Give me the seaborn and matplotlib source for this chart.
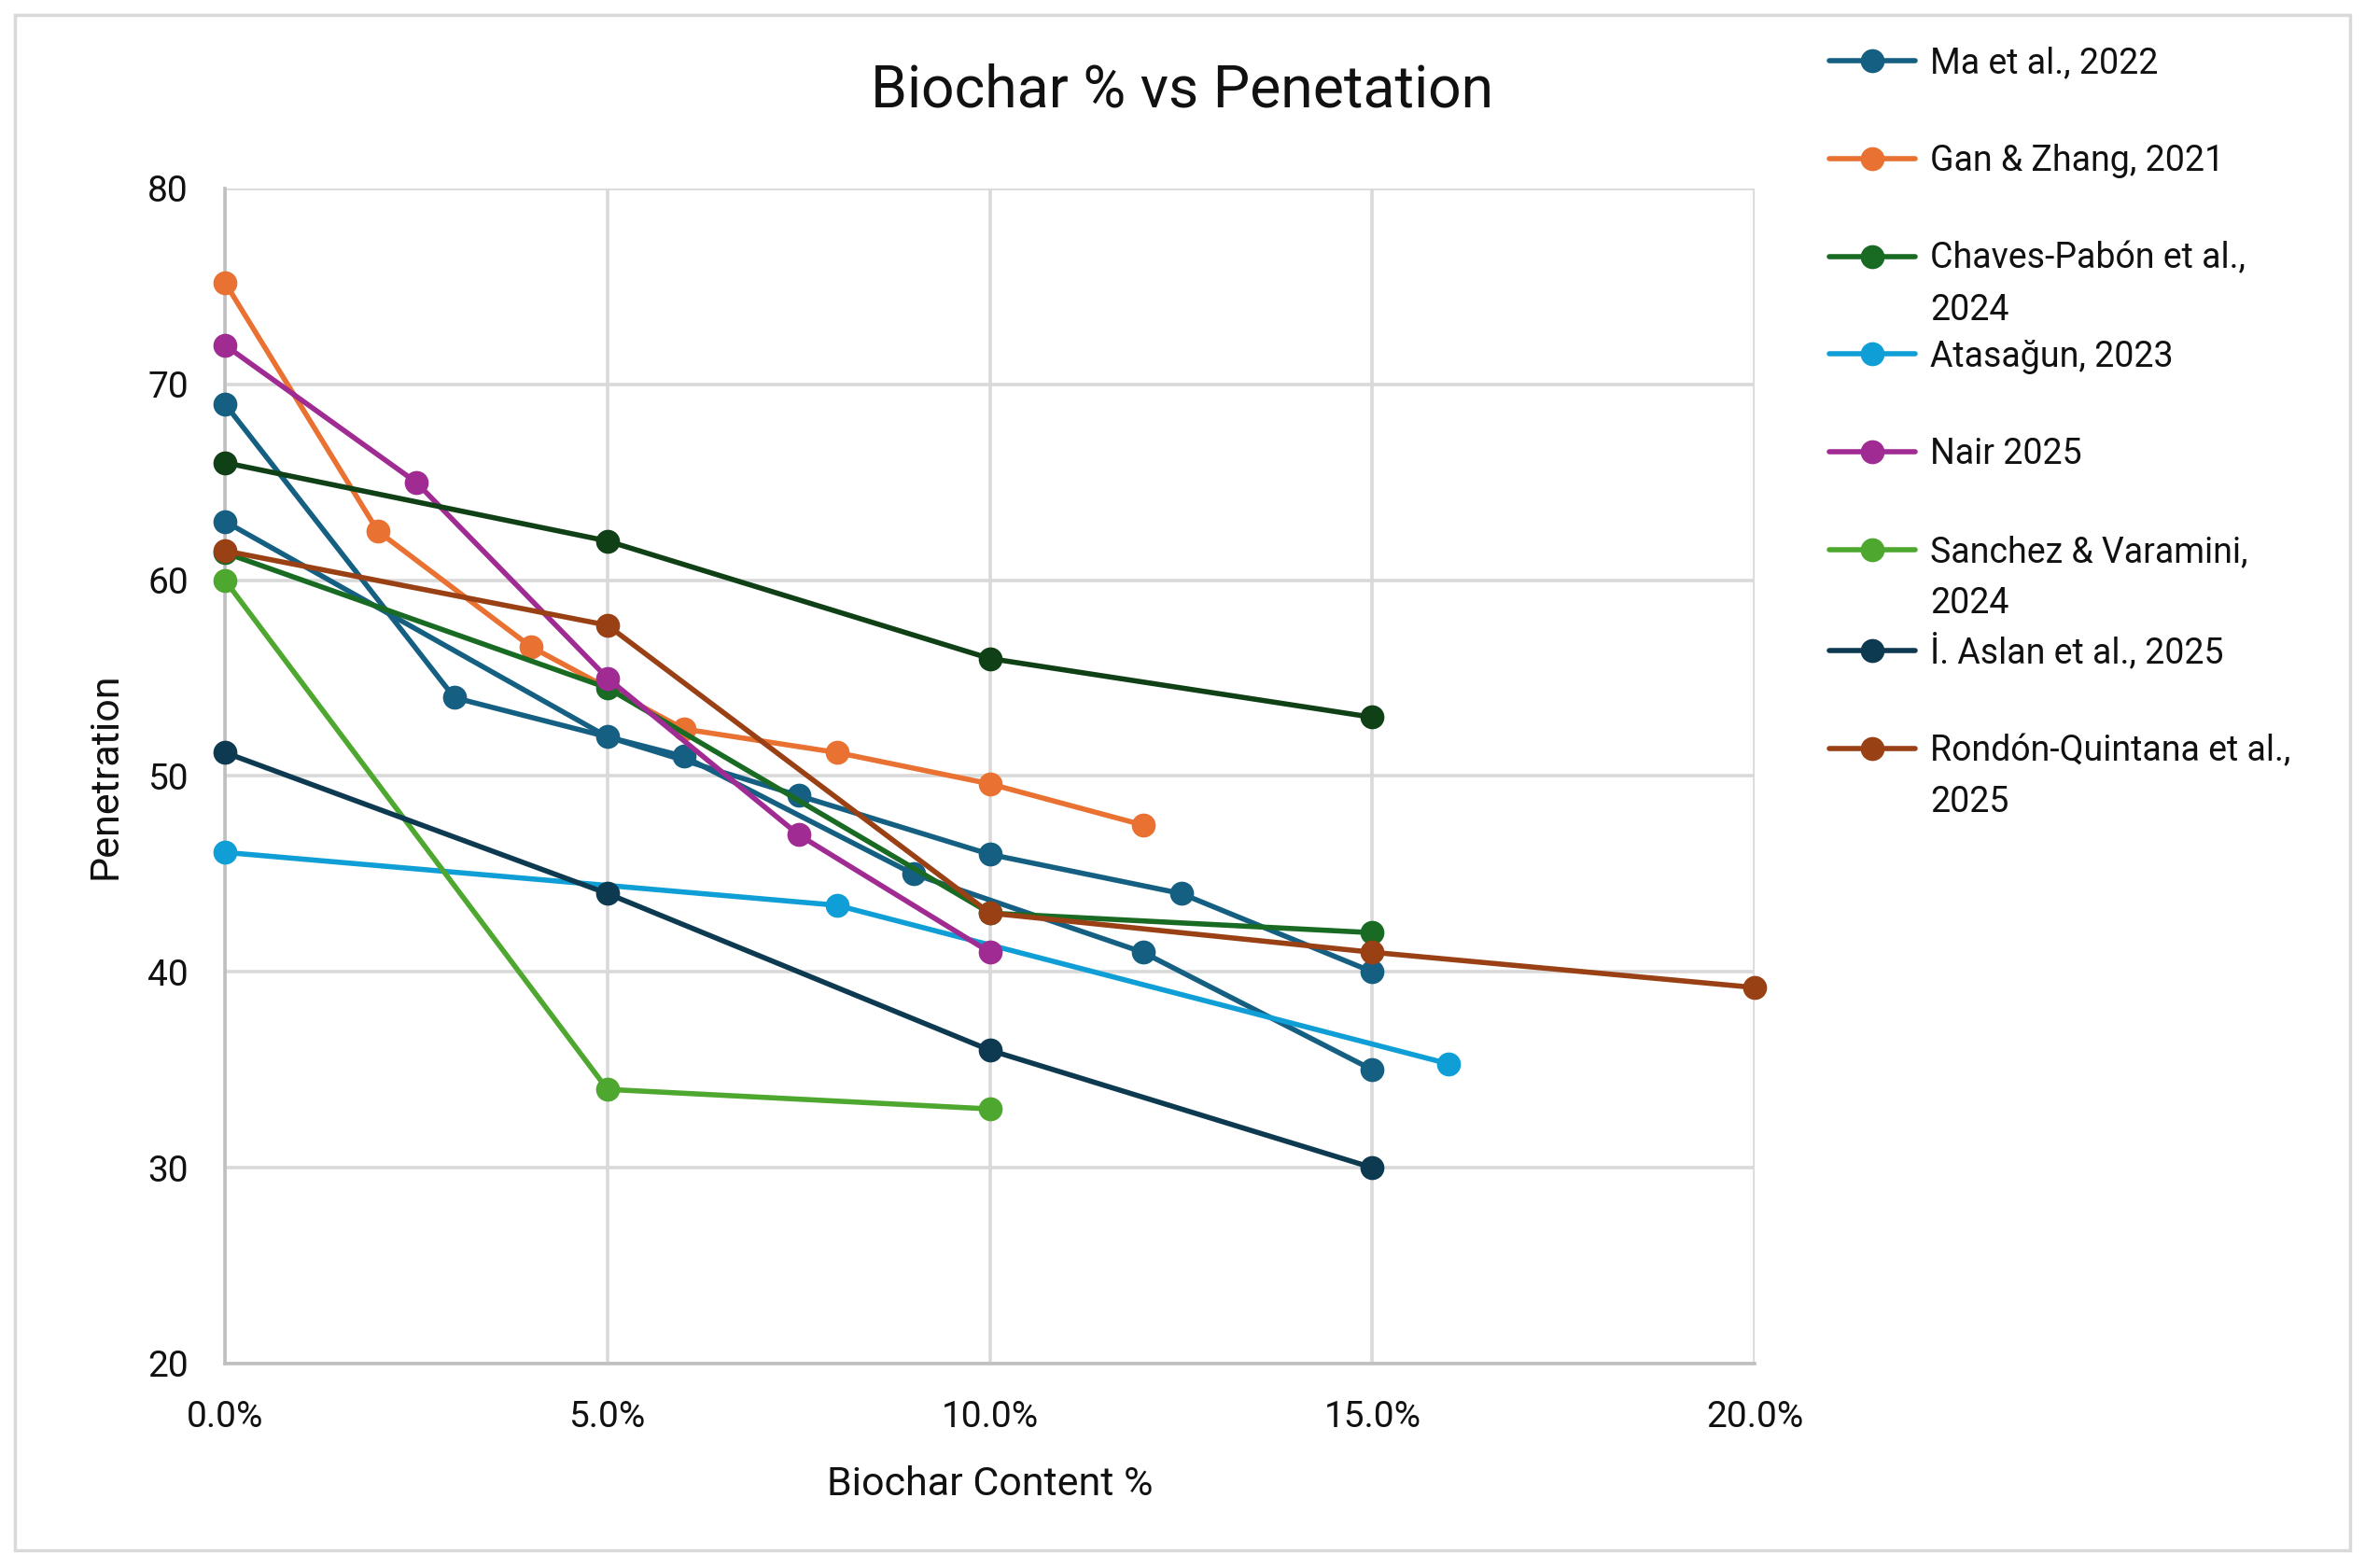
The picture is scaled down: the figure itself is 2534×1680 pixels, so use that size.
from matplotlib import pyplot as plt
from matplotlib.lines import Line2D
from matplotlib.patches import Rectangle
from matplotlib.ticker import PercentFormatter
import pandas as pd
import seaborn as sns

sns.set_theme(style='whitegrid')
plt.rcParams['font.family'] = ['Roboto', 'DejaVu Sans']

# Ma et al. holds two runs in one series, split by a gap
ma_a_x = [0, 0.05, 0.075, 0.10, 0.125, 0.15]
ma_a_y = [63, 52, 49, 46, 44, 40]
ma_b_x = [0, 0.03, 0.06, 0.09, 0.12, 0.15]
ma_b_y = [69, 54, 51, 45, 41, 35]
gan_x = [0, 0.02, 0.04, 0.06, 0.08, 0.10, 0.12]
gan_y = [75.2, 62.5, 56.6, 52.4, 51.2, 49.6, 47.5]
chaves_x = [0, 0.05, 0.10, 0.15]
chaves_y = [61.4, 54.5, 43, 42]
atasagun_x = [0, 0.08, 0.16]
atasagun_y = [46.1, 43.4, 35.3]
nair_x = [0, 0.025, 0.05, 0.075, 0.10]
nair_y = [72, 65, 55, 47, 41]
sanchez_x = [0, 0.05, 0.10]
sanchez_y = [60, 34, 33]
aslan_x = [0, 0.05, 0.10, 0.15]
aslan_y = [51.2, 44, 36, 30]
rondon_x = [0, 0.05, 0.10, 0.15, 0.20]
rondon_y = [61.5, 57.7, 43, 41, 39.2]
# extra series without a legend entry
extra_x = [0, 0.05, 0.10, 0.15]
extra_y = [66, 62, 56, 53]

labels = ['Ma et al., 2022', 'Gan & Zhang, 2021', 'Chaves-Pabón et al.,', 'Atasağun, 2023',
          'Nair 2025', 'Sanchez & Varamini,', 'İ. Aslan et al., 2025', 'Rondón-Quintana et al.,']
second_lines = {2: '2024', 5: '2024', 7: '2025'}
colors = ['#156082', '#E97132', '#196B24', '#0F9ED5', '#A02B93', '#4EA72E', '#0D3A50', '#9A4015']
extra_color = '#0F4016'

series = [
    (ma_a_x, ma_a_y, colors[0]), (ma_b_x, ma_b_y, colors[0]),
    (gan_x, gan_y, colors[1]), (chaves_x, chaves_y, colors[2]),
    (atasagun_x, atasagun_y, colors[3]), (nair_x, nair_y, colors[4]),
    (sanchez_x, sanchez_y, colors[5]), (aslan_x, aslan_y, colors[6]),
    (rondon_x, rondon_y, colors[7]), (extra_x, extra_y, extra_color),
]

fig = plt.figure(figsize=(25.34, 16.8), dpi=100)
ax = fig.add_axes([0.0951, 0.1304, 0.742 - 0.0951, 0.8798 - 0.1304])

for i, (x, y, c) in enumerate(series):
    df = pd.DataFrame({'x': x, 'y': y})
    sns.lineplot(data=df, x='x', y='y', ax=ax, color=c, sort=False, estimator=None,
                 marker='o', markersize=18.5, markeredgewidth=0, linewidth=4.0,
                 zorder=3 + i, clip_on=False)

ax.set_xlim(0, 0.20)
ax.set_ylim(20, 80)
ax.set_xticks([0, 0.05, 0.10, 0.15, 0.20])
ax.set_yticks(range(20, 81, 10))
ax.xaxis.set_major_formatter(PercentFormatter(1.0, decimals=1))
ax.grid(True, color='#d9d9d9', linewidth=2.6)
ax.set_facecolor('white')
for side in ['top', 'right']:
    ax.spines[side].set_visible(False)
for side in ['left', 'bottom']:
    ax.spines[side].set_color('#bfbfbf')
    ax.spines[side].set_linewidth(2.6)
ax.tick_params(axis='both', length=0, labelsize=28, colors='#111111')
ax.tick_params(axis='x', pad=28)
ax.tick_params(axis='y', pad=28)
ax.set_xlabel('Biochar Content %', fontsize=31, color='#111111', labelpad=24)
ax.set_ylabel('Penetration', fontsize=31, color='#111111', labelpad=18)

fig.text(0.5, 0.942, 'Biochar % vs Penetation', fontsize=45, ha='center', va='center',
         color='#111111')

handles = [Line2D([], [], color=c, marker='o', markersize=18.5, markeredgewidth=0, linewidth=4.0)
           for c in colors]
leg = fig.legend(handles, labels, loc='upper left', bbox_to_anchor=(0.766, 0.982),
                 frameon=False, borderpad=0, handlelength=2.45, handletextpad=0.43,
                 labelspacing=1.81, fontsize=27)
for t in leg.get_texts():
    t.set_color('#111111')

fig.canvas.draw()
for idx, extra in second_lines.items():
    bb = leg.get_texts()[idx].get_window_extent().transformed(fig.transFigure.inverted())
    fig.text(bb.x0, (bb.y0 + bb.y1) / 2 - 55 / 1680, extra, fontsize=27, color='#111111',
             ha='left', va='center')

fig.patches.append(Rectangle((16 / 2534, 19 / 1680), (2518 - 16) / 2534, (1664 - 19) / 1680,
                             transform=fig.transFigure, fill=False, edgecolor='#d9d9d9',
                             linewidth=2.5))

fig.savefig('out.png', dpi=100, facecolor='white')
